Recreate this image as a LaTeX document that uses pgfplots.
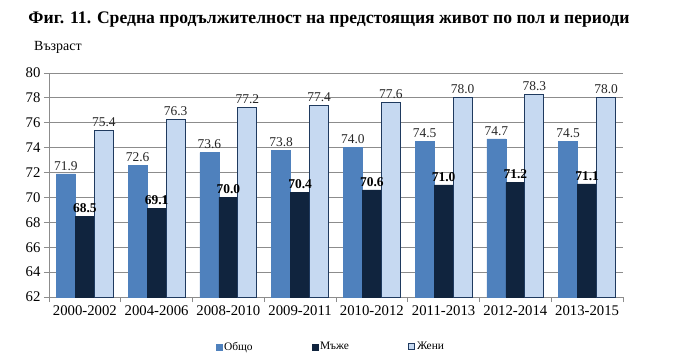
\documentclass[border=0pt]{standalone}
\usepackage{fontspec}
\setmainfont{Liberation Serif}
\usepackage{pgfplots}
\pgfplotsset{compat=1.18}
\definecolor{obshto}{HTML}{4F81BD}
\definecolor{mazhe}{HTML}{10243E}
\definecolor{zheni}{HTML}{C6D9F1}
\definecolor{zhenib}{HTML}{1F3A5F}
\definecolor{gridc}{HTML}{8C8C8C}
\begin{document}
\begin{tikzpicture}
\path[use as bounding box] (0,0) rectangle (680bp,361bp);
\node[font=\fontsize{17.7}{20}\selectfont\bfseries] at (329bp,341bp) {Фиг. 11. Средна продължителност на предстоящия живот по пол и периоди};
\node[font=\fontsize{14}{16}\selectfont, anchor=west, inner sep=0pt] at (34bp,314bp) {Възраст};
\begin{axis}[
  at={(49bp,64bp)}, anchor=south west,
  scale only axis, width=574bp, height=224bp,
  ybar=0pt, bar width=19bp,
  xmin=-0.5, xmax=7.5, ymin=62, ymax=80,
  ytick={62,64,...,80},
  xtick={0,...,7},
  xticklabels={2000-2002,2004-2006,2008-2010,2009-2011,2010-2012,2011-2013,2012-2014,2013-2015},
  minor xtick={-0.5,0.5,...,7.5},
  major x tick style={draw=none},
  minor x tick style={draw=gridc, line width=0.8pt},
  y tick style={draw=gridc, line width=0.8pt},
  tick align=outside,
  major tick length=5bp, minor tick length=5bp,
  ymajorgrids, grid style={draw=gridc, line width=0.8pt},
  axis x line*=bottom, axis y line*=left,
  axis line style={draw=gridc, line width=0.8pt, -},
  ticklabel style={font=\fontsize{14.8}{16}\selectfont},
  /pgf/number format/assume math mode=true,
  nodes near coords,
  nodes near coords style={font=\fontsize{13.5}{15}\selectfont, /pgf/number format/fixed, /pgf/number format/fixed zerofill, /pgf/number format/precision=1},
  legend style={at={(0.491,-0.223)}, anchor=center, draw=none, font=\fontsize{11.5}{13}\selectfont,
    legend columns=3, /tikz/every even column/.append style={column sep=57bp}},
  legend image code/.code={\draw[#1] (0bp,-3bp) rectangle (6bp,3bp);},
  clip=false,
]
\addplot[fill=obshto, draw=obshto, nodes near coords style={text=black!85}] coordinates {(0,71.9) (1,72.6) (2,73.6) (3,73.8) (4,74.0) (5,74.5) (6,74.7) (7,74.5)};
\addplot[fill=mazhe, draw=mazhe, nodes near coords style={text=black, font=\fontsize{13.5}{15}\selectfont\bfseries}] coordinates {(0,68.5) (1,69.1) (2,70.0) (3,70.4) (4,70.6) (5,71.0) (6,71.2) (7,71.1)};
\addplot[fill=zheni, draw=zhenib, line width=1pt, nodes near coords style={text=black!85}] coordinates {(0,75.4) (1,76.3) (2,77.2) (3,77.4) (4,77.6) (5,78.0) (6,78.3) (7,78.0)};
\legend{Общо, Мъже, Жени}
\end{axis}
\end{tikzpicture}
\end{document}
